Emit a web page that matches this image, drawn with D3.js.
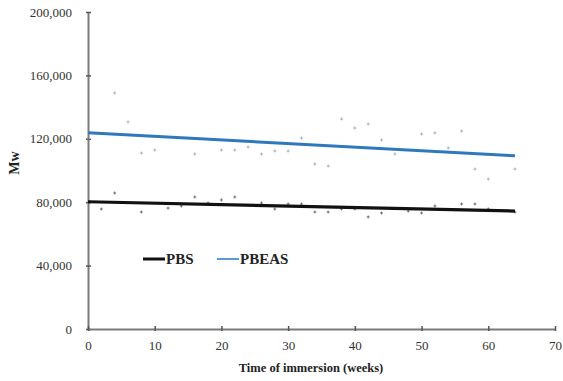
<!DOCTYPE html>
<html>
<head>
<meta charset="utf-8">
<script src="https://cdn.jsdelivr.net/npm/d3@7"></script>
<style>
  html, body { margin: 0; padding: 0; background: #fff; }
  svg { display: block; }
</style>
</head>
<body>
<svg id="chart" width="563" height="381"></svg>
<script>
// Molecular weight (Mw) measured over weeks of immersion
const pbsWeeks   = [2, 4, 8, 12, 14, 16, 18, 20, 22, 26, 28, 30, 32, 34, 36, 38, 40, 42, 44, 48, 50, 52, 56, 58, 60, 64];
const pbsMw      = [75700, 85800, 73800, 76300, 77600, 83300, 79500, 81400, 83300, 79500, 75700, 78900, 78900, 73800, 73800, 75700, 75700, 70700, 73200, 74400, 73200, 77600, 78900, 78900, 75700, 73800];
const pbeasWeeks = [0, 4, 6, 8, 10, 16, 20, 22, 24, 26, 28, 30, 32, 34, 36, 38, 40, 42, 44, 46, 50, 52, 54, 56, 58, 60, 64];
const pbeasMw    = [120000, 148900, 130600, 111000, 112900, 110400, 112900, 112900, 114800, 110400, 112300, 112300, 120500, 104100, 102800, 132500, 126800, 129300, 119200, 110400, 123000, 123700, 114200, 124900, 100900, 94600, 100900];

// Linear trend lines (start and end of the fit)
const trendWeeks = [0, 64];
const pbsTrend   = [80300, 74400];
const pbeasTrend = [123800, 109300];

const xTicks = [0, 10, 20, 30, 40, 50, 60, 70];
const yTicks = [0, 40000, 80000, 120000, 160000, 200000];
const seriesNames = ["PBS", "PBEAS"];

const FONT = "'Liberation Serif', 'Times New Roman', 'DejaVu Serif', serif";

const svg = d3.select("#chart");
const margin = { left: 88, right: 8, top: 12, bottom: 52 };
const W = 563, H = 381;

const x = d3.scaleLinear().domain([0, 70]).range([margin.left, W - margin.right]);
const y = d3.scaleLinear().domain([0, 200000]).range([H - margin.bottom, margin.top]);

const fmt = d3.format(",");

// Axes
const axisColor = "#7a7a7a";
const yAxis = svg.append("g")
  .attr("transform", `translate(${x(0)},0)`)
  .call(d3.axisLeft(y).tickValues(yTicks).tickFormat(fmt).tickSize(0).tickPadding(16));
const xAxis = svg.append("g")
  .attr("transform", `translate(0,${y(0)})`)
  .call(d3.axisBottom(x).tickValues(xTicks).tickFormat(d3.format("d")).tickSize(0).tickPadding(12));

[yAxis, xAxis].forEach(g => {
  g.attr("font-family", FONT);
  g.select(".domain").attr("stroke", axisColor).attr("stroke-width", 2);
  g.selectAll("text").attr("fill", "#333")
    .style("font-family", FONT).style("font-size", "13px");
});

// Small cross tick marks on the axes
yAxis.selectAll(".tick").append("line")
  .attr("x1", -2).attr("x2", 3).attr("y1", 0).attr("y2", 0)
  .attr("stroke", "#555").attr("stroke-width", 1.5);
xAxis.selectAll(".tick").append("line")
  .attr("x1", 0).attr("x2", 0).attr("y1", -3).attr("y2", 2)
  .attr("stroke", "#555").attr("stroke-width", 1.5);

// Scatter markers (small crosses)
function markers(weeks, vals, color, opacity) {
  const g = svg.append("g").attr("stroke", color).attr("stroke-width", 1).attr("opacity", opacity);
  const pts = weeks.map((w, i) => [x(w), y(vals[i])]);
  g.selectAll("line.h").data(pts).join("line").attr("class", "h")
    .attr("x1", d => d[0] - 1.5).attr("x2", d => d[0] + 1.5)
    .attr("y1", d => d[1]).attr("y2", d => d[1]);
  g.selectAll("line.v").data(pts).join("line").attr("class", "v")
    .attr("x1", d => d[0]).attr("x2", d => d[0])
    .attr("y1", d => d[1] - 1.5).attr("y2", d => d[1] + 1.5);
}
markers(pbeasWeeks, pbeasMw, "#7f93a8", 0.7);
markers(pbsWeeks, pbsMw, "#444", 0.75);

// Trend lines
const line = d3.line().x(d => x(d[0])).y(d => y(d[1]));
svg.append("path")
  .datum(trendWeeks.map((w, i) => [w, pbeasTrend[i]]))
  .attr("d", line).attr("fill", "none")
  .attr("stroke", "#2f78bd").attr("stroke-width", 3);
svg.append("path")
  .datum(trendWeeks.map((w, i) => [w, pbsTrend[i]]))
  .attr("d", line).attr("fill", "none")
  .attr("stroke", "#111").attr("stroke-width", 3.2);

// Legend
const legendColors = ["#111", "#5b9bd5"];
const legendX = [143, 217];
const legend = svg.append("g");
seriesNames.forEach((name, i) => {
  legend.append("line")
    .attr("x1", legendX[i]).attr("x2", legendX[i] + 22)
    .attr("y1", 259).attr("y2", 259)
    .attr("stroke", legendColors[i]).attr("stroke-width", i === 0 ? 3 : 2);
  legend.append("text")
    .attr("x", legendX[i] + 23).attr("y", 264)
    .attr("fill", "#222").style("font-family", FONT)
    .style("font-size", "15px").style("font-weight", "bold")
    .text(name);
});

// Axis titles
svg.append("text")
  .attr("x", 311).attr("y", 372).attr("text-anchor", "middle")
  .attr("fill", "#222").style("font-family", FONT)
  .style("font-size", "12.5px").style("font-weight", "bold")
  .text("Time of immersion (weeks)");
svg.append("text")
  .attr("transform", "translate(19,163) rotate(-90)").attr("text-anchor", "middle")
  .attr("fill", "#222").style("font-family", FONT)
  .style("font-size", "14px").style("font-weight", "bold")
  .text("Mw");
</script>
</body>
</html>
